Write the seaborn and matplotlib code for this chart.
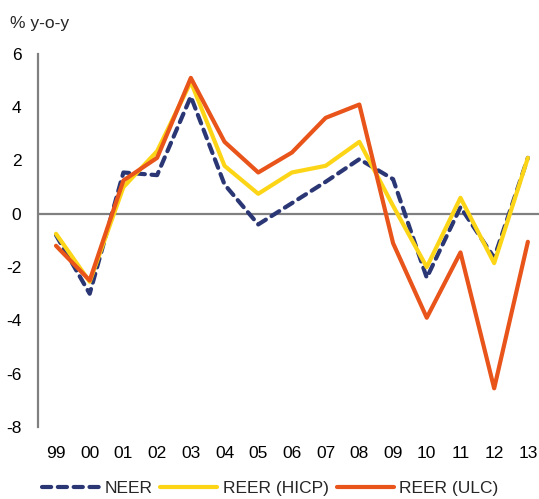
import matplotlib
matplotlib.use("Agg")
import matplotlib.pyplot as plt
import seaborn as sns
import pandas as pd

years = ["99", "00", "01", "02", "03", "04", "05", "06", "07", "08", "09", "10", "11", "12", "13"]
neer = [-0.8, -3.0, 1.55, 1.45, 4.4, 1.1, -0.4, 0.4, 1.2, 2.05, 1.3, -2.4, 0.25, -1.65, 2.1]
reer_hicp = [-0.75, -2.55, 1.0, 2.35, 4.95, 1.8, 0.75, 1.55, 1.8, 2.7, 0.3, -2.0, 0.6, -1.85, 2.1]
reer_ulc = [-1.2, -2.5, 1.25, 2.1, 5.1, 2.7, 1.55, 2.3, 3.6, 4.1, -1.1, -3.9, -1.45, -6.55, -1.05]

series = {"NEER": neer, "REER (HICP)": reer_hicp, "REER (ULC)": reer_ulc}
colors = {"NEER": "#2B3775", "REER (HICP)": "#FDD517", "REER (ULC)": "#E8541A"}

rows = []
for name, vals in series.items():
    for i, v in enumerate(vals):
        rows.append({"pos": i, "value": v, "series": name})
df = pd.DataFrame(rows)

sns.set_theme(style="white")
plt.rcParams["font.family"] = ["Liberation Sans", "DejaVu Sans"]
fs = 12.5

fig = plt.figure(figsize=(5.39, 4.99), dpi=100)
ax = fig.add_axes([0.0705, 0.1443, 0.9295, 0.7477])

ax.axhline(0, color="#808080", lw=1.6, zorder=1)

for name in ["NEER", "REER (HICP)", "REER (ULC)"]:
    sub = df[df["series"] == name]
    kw = dict(dashes=(2.2, 1.6), dash_capstyle="round") if name == "NEER" else dict(solid_capstyle="round")
    sns.lineplot(data=sub, x="pos", y="value", ax=ax, color=colors[name], lw=3.0,
                 label=name, zorder=3 if name == "REER (ULC)" else 2, **kw)

ax.set_xlim(-0.534, 14.33)
ax.set_ylim(-8, 6)
ax.set_yticks(range(-8, 7, 2))
ax.set_yticklabels([str(t) for t in range(-8, 7, 2)], fontsize=fs, color="black")
ax.set_xticks(range(len(years)))
ax.set_xticklabels(years, fontsize=fs, color="black")
ax.tick_params(axis="x", length=0, pad=14)
ax.tick_params(axis="y", length=0, pad=12)
ax.set_xlabel("")
ax.set_ylabel("")

for s in ["top", "right", "bottom"]:
    ax.spines[s].set_visible(False)
ax.spines["left"].set_color("#808080")
ax.spines["left"].set_linewidth(1.6)

fig.text(0.019, 0.952, "% y-o-y", fontsize=fs, va="center", ha="left")

ax.legend(loc="center", bbox_to_anchor=(0.463, -0.165), ncol=3, frameon=False,
          fontsize=fs, handlelength=3.3, columnspacing=0.46, handletextpad=0.3)

fig.savefig("out.png", dpi=100)
